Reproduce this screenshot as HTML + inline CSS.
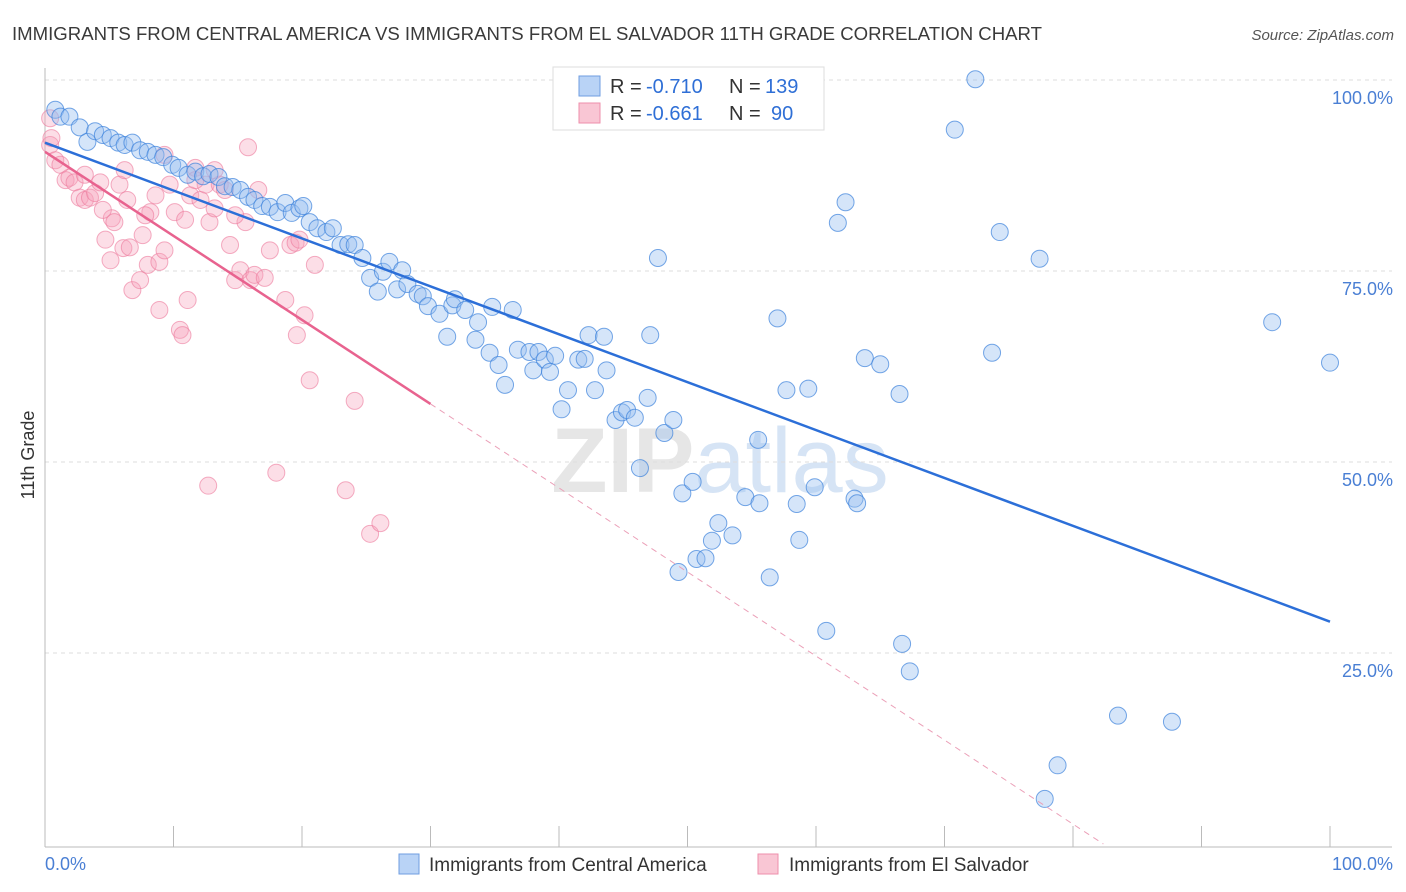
<!DOCTYPE html>
<html><head><meta charset="utf-8"><style>
body{margin:0;background:#fff;font-family:"Liberation Sans",sans-serif}
svg{display:block}
</style></head><body>
<svg id="chart" width="1406" height="892" xmlns="http://www.w3.org/2000/svg">
<text x="12" y="40" font-size="18" fill="#3a3a3a" textLength="1030" lengthAdjust="spacingAndGlyphs">IMMIGRANTS FROM CENTRAL AMERICA VS IMMIGRANTS FROM EL SALVADOR 11TH GRADE CORRELATION CHART</text>
<text x="1394" y="40" font-size="15" fill="#555" font-style="italic" text-anchor="end">Source: ZipAtlas.com</text>
<text x="720" y="492" font-size="92" fill="#e6e6e6" text-anchor="middle" font-weight="bold">ZIP<tspan fill="#d6e4f5" font-weight="normal">atlas</tspan></text>
<g id="grid"></g>
<g id="axes"></g>
<g id="pts"></g>
<g id="lines"></g>
<text transform="translate(34,455) rotate(-90)" font-size="18" fill="#333" text-anchor="middle">11th Grade</text>
<g>
<rect x="553" y="67" width="271" height="63" fill="#fff" stroke="#ddd"/>
<rect x="579" y="76" width="21" height="20" fill="#b9d3f6" stroke="#6f9ee0"/>
<rect x="579" y="103" width="21" height="20" fill="#f9c6d4" stroke="#ee8fab"/>
<text x="610" y="93" font-size="20" fill="#333">R =</text>
<text x="646" y="93" font-size="20" fill="#2f6fd6">-0.710</text>
<text x="729" y="93" font-size="20" fill="#333">N =</text>
<text x="765" y="93" font-size="20" fill="#2f6fd6">139</text>
<text x="610" y="120" font-size="20" fill="#333">R =</text>
<text x="646" y="120" font-size="20" fill="#2f6fd6">-0.661</text>
<text x="729" y="120" font-size="20" fill="#333">N =</text>
<text x="771" y="120" font-size="20" fill="#2f6fd6">90</text>
</g>
<g>
<rect x="399" y="854" width="20" height="20" fill="#b9d3f6" stroke="#6f9ee0"/>
<text x="429" y="871" font-size="19" fill="#333">Immigrants from Central America</text>
<rect x="758" y="854" width="20" height="20" fill="#f9c6d4" stroke="#ee8fab"/>
<text x="789" y="871" font-size="19" fill="#333">Immigrants from El Salvador</text>
</g>
</svg>
<script>
const blueX=[0.8,1.2,1.9,2.7,3.3,3.9,4.5,5.1,5.7,6.2,6.8,7.4,8.0,8.6,9.2,9.9,10.4,11.1,11.7,12.3,12.8,13.5,14.0,14.6,15.2,15.8,16.3,16.9,17.5,18.1,18.7,19.2,19.8,20.1,20.6,21.2,21.9,22.4,23.0,23.6,24.1,24.7,25.3,25.9,26.3,26.8,27.4,27.8,28.2,29.0,29.4,29.8,30.7,31.3,31.7,31.9,32.7,33.5,33.7,34.6,34.8,35.3,35.8,36.4,36.8,37.7,38.0,38.4,38.9,39.3,39.7,40.2,40.7,41.5,42.0,42.3,42.8,43.5,43.7,44.4,44.9,45.3,45.9,46.3,46.9,47.1,47.7,48.2,48.9,49.6,50.4,49.3,50.7,51.4,51.9,52.4,53.5,54.5,55.5,55.6,56.4,57.0,57.7,58.5,58.7,59.4,59.9,60.8,61.7,62.3,63.0,63.2,63.8,65.0,66.5,66.7,67.3,70.8,72.4,73.7,74.3,77.4,77.8,78.8,83.5,87.7,95.5,100.0,54.2];
const blueY=[96.1,95.2,95.2,93.8,91.9,93.3,92.8,92.4,91.8,91.5,91.8,90.8,90.6,90.2,89.9,88.9,88.5,87.6,88.0,87.4,87.7,87.3,86.1,86.0,85.6,84.7,84.3,83.5,83.4,82.7,83.9,82.6,83.2,83.5,81.4,80.6,80.1,80.6,78.4,78.5,78.4,76.7,74.1,72.3,74.9,76.2,72.6,75.1,73.3,72.0,71.7,70.4,69.4,66.4,70.5,71.3,69.9,66.0,68.3,64.3,70.3,62.7,60.1,69.9,64.7,64.4,62.0,64.4,63.4,61.8,63.9,56.9,59.4,63.4,63.5,66.6,59.4,66.4,62.0,55.5,56.5,56.8,55.8,49.2,58.4,66.6,76.7,53.8,55.5,45.9,47.4,35.6,37.3,37.4,39.7,42.0,40.4,45.4,52.9,44.6,34.9,68.8,59.4,44.5,39.8,59.6,46.7,27.9,81.3,84.0,45.2,44.6,63.6,62.8,58.9,26.2,22.6,93.5,100.1,64.3,80.1,76.6,5.9,10.3,16.8,16.0,68.3,63.0,99.7];
const pinkX=[0.4,0.4,0.8,1.2,1.6,1.9,2.3,2.7,3.1,3.5,3.9,4.3,4.7,5.1,5.2,5.4,5.8,6.1,6.4,6.6,6.8,7.4,7.6,8.0,8.2,8.6,8.9,8.9,9.3,9.7,10.1,10.5,10.7,11.1,10.9,11.3,11.7,12.1,12.5,12.7,12.8,13.2,13.6,14.0,14.4,14.8,15.2,15.6,15.8,16.0,16.3,16.6,17.1,17.5,18.0,18.7,19.1,19.5,19.6,19.8,20.2,20.6,21.0,23.4,24.1,25.3,26.1,6.2,9.3,11.7,13.2,14.8,4.5,3.1,7.8,0.5];
const pinkY=[95.0,91.5,89.5,88.9,86.9,87.2,86.6,84.6,84.3,84.6,85.2,86.6,79.1,76.4,81.9,81.4,86.3,78.0,84.3,78.1,72.5,73.8,79.7,75.8,82.7,84.9,69.9,76.2,77.7,86.3,82.7,67.3,66.6,71.2,81.7,84.9,88.5,84.3,86.3,46.9,81.4,83.2,86.3,85.6,78.4,73.8,75.1,81.4,91.2,73.8,74.5,85.6,74.1,77.7,48.6,71.2,78.4,78.7,66.6,79.1,69.2,60.7,75.8,46.3,58.0,40.6,42.0,88.2,90.2,86.9,88.2,82.3,83.0,87.6,82.3,92.4];
const blueTrend=[91.8,29.1];
const pinkTrend=[90.6,-1.1];
const pinkSolidEnd=30;
const yTicks=[25,50,75,100];
const xTicks=[0,10,20,30,40,50,60,70,80,90,100];

const NS='http://www.w3.org/2000/svg';
const X0=45,X1=1330,Y0=844,Y100=80;
const sx=v=>X0+(X1-X0)*v/100;
const sy=v=>Y0-(Y0-Y100)*v/100;
function mk(tag,attrs,parent){const e=document.createElementNS(NS,tag);for(const k in attrs)e.setAttribute(k,attrs[k]);parent.appendChild(e);return e;}
const grid=document.getElementById('grid'),axes=document.getElementById('axes'),pts=document.getElementById('pts'),lines=document.getElementById('lines');
yTicks.forEach(t=>{
 const l=mk('line',{x1:45,x2:1392,y1:sy(t),y2:sy(t),stroke:'#ddd','stroke-dasharray':'4,4'},grid);
 
 
 const tx=mk('text',{x:1393,y:sy(t)+24,'font-size':18,fill:'#4a7fd4','text-anchor':'end'},axes);
 tx.textContent=t.toFixed(1)+'%';
 
 
});
const ya=mk('line',{x1:45,x2:45,y1:68,y2:847,stroke:'#bbb'},axes);


const xa=mk('line',{x1:45,x2:1392,y1:847,y2:847,stroke:'#bbb'},axes);


xTicks.forEach(t=>{
 const l=mk('line',{x1:sx(t),x2:sx(t),y1:826,y2:847,stroke:'#bbb'},axes);
 
 
});
[[0,'0.0%',45,'start'],[100,'100.0%',1393,'end']].forEach(([v,s,x,a])=>{
 const tx=mk('text',{x:x,y:870,'font-size':18,fill:'#4a7fd4','text-anchor':a},axes);
 tx.textContent=s;
 
 
});
pinkX.forEach((x,i)=>{
 const c=mk('circle',{cx:sx(x),cy:sy(pinkY[i]),r:8.5,fill:'rgba(245,160,185,0.35)',stroke:'rgba(236,120,155,0.6)','stroke-width':1},pts);
 
 
});
blueX.forEach((x,i)=>{
 const c=mk('circle',{cx:sx(x),cy:sy(blueY[i]),r:8.5,fill:'rgba(150,190,240,0.4)',stroke:'rgba(60,130,220,0.7)','stroke-width':1},pts);
 
 
});
const bl=mk('line',{x1:sx(0),y1:sy(blueTrend[0]),x2:sx(100),y2:sy(blueTrend[1]),stroke:'#2c6fd8','stroke-width':2.5},lines);


const pEnd=pinkTrend[0]+pinkTrend[1]*pinkSolidEnd;
const pl=mk('line',{x1:sx(0),y1:sy(pinkTrend[0]),x2:sx(pinkSolidEnd),y2:sy(pEnd),stroke:'#e8638f','stroke-width':2.5},lines);


const xz=-pinkTrend[0]/pinkTrend[1];
const pd=mk('line',{x1:sx(pinkSolidEnd),y1:sy(pEnd),x2:sx(xz),y2:sy(0),stroke:'#eba0b8','stroke-width':1,'stroke-dasharray':'6,5'},lines);


</script>
</body></html>
